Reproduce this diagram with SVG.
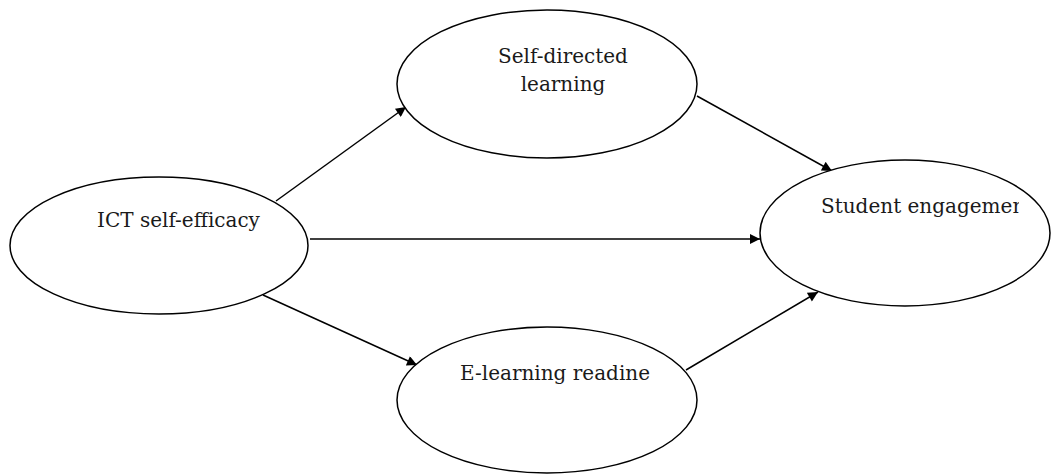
<svg xmlns="http://www.w3.org/2000/svg" width="1051" height="476" viewBox="0 0 1051 476">
<style>
.node{fill:#fff;stroke:#000;stroke-width:1.5}
.lbl{font-family:"DejaVu Serif","Liberation Serif",serif;font-size:20px;fill:#1a1a1a}
.edge{stroke:#000;stroke-width:1.5;fill:none;marker-end:url(#arr)}
</style>
<defs>
<marker id="arr" viewBox="0 0 10 10" refX="10" refY="5" markerWidth="12" markerHeight="10" markerUnits="userSpaceOnUse" orient="auto">
<path d="M0,0 L10,5 L0,10 Z" fill="#000"/>
</marker>
<clipPath id="clipSE"><rect x="700" y="150" width="319" height="100"/></clipPath>
</defs>
<rect width="1051" height="476" fill="#fff"/>
<g id="connectors">
<line class="edge" x1="276" y1="201" x2="406" y2="107"/>
<line class="edge" x1="310" y1="239" x2="760" y2="239"/>
<line class="edge" x1="263" y1="295" x2="417" y2="365"/>
<line class="edge" x1="697" y1="96" x2="832" y2="171"/>
<line class="edge" x1="686" y1="370" x2="818" y2="292"/>
</g>
<g id="ict">
<ellipse class="node" cx="159" cy="245.5" rx="149" ry="68.5"/>
<text class="lbl" x="97" y="227">ICT self-efficacy</text>
</g>
<g id="sdl">
<ellipse class="node" cx="547" cy="84" rx="150" ry="74"/>
<text class="lbl" x="563" y="63" text-anchor="middle">Self-directed</text>
<text class="lbl" x="563" y="91" text-anchor="middle">learning</text>
</g>
<g id="elr">
<ellipse class="node" cx="547" cy="400" rx="150" ry="73"/>
<text class="lbl" x="460" y="380">E-learning readine</text>
</g>
<g id="se">
<ellipse class="node" cx="905" cy="233" rx="145" ry="73"/>
<text class="lbl" x="821" y="213" clip-path="url(#clipSE)">Student engagemen</text>
</g>
</svg>
